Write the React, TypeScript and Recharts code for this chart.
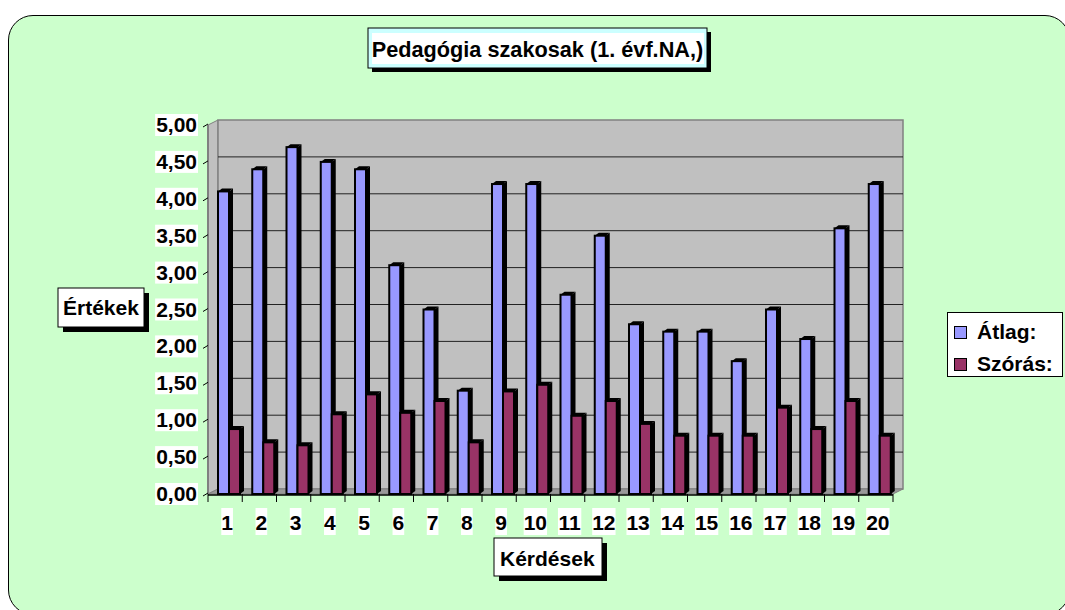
import { BarChart, Bar, XAxis, YAxis, Legend, usePlotArea } from "recharts";

const kerdesek = ["1", "2", "3", "4", "5", "6", "7", "8", "9", "10", "11", "12", "13", "14", "15", "16", "17", "18", "19", "20"];
const atlag = [4.1, 4.4, 4.7, 4.5, 4.4, 3.1, 2.5, 1.4, 4.2, 4.2, 2.7, 3.5, 2.3, 2.2, 2.2, 1.8, 2.5, 2.1, 3.6, 4.2];
const szoras = [0.88, 0.7, 0.66, 1.08, 1.35, 1.1, 1.26, 0.7, 1.39, 1.48, 1.06, 1.26, 0.95, 0.79, 0.79, 0.79, 1.17, 0.88, 1.26, 0.79];
const yTicks = [0, 0.5, 1, 1.5, 2, 2.5, 3, 3.5, 4, 4.5, 5];
const seriesNames = ["Átlag:", "Szórás:"];

const FONT = "'Liberation Sans', Arial, sans-serif";
const FS = 21;
const BLUE = "#9999FF";
const PLUM = "#993366";

const chartData = kerdesek.map((k, i) => ({ k, atlag: atlag[i], szoras: szoras[i] }));

const fmt = (v: number) => v.toFixed(2).replace(".", ",");
const textW = (s: string) =>
  s.split("").reduce((a, c) => a + (c === "," || c === "." ? 0.278 : 0.556), 0) * FS;

// 3D depth of the walls
const DX = 10;
const DY = -5;

function Bar3D(props: any) {
  const { x, y, width, height, fill } = props;
  if (!height || height <= 0) return null;
  const bx = x + 4;
  const d = 4;
  const e = 3;
  return (
    <g>
      <polygon
        points={`${bx + width},${y} ${bx + width + d},${y - e} ${bx + width + d},${y + height - e} ${bx + width},${y + height}`}
        fill="#000"
      />
      <polygon points={`${bx},${y} ${bx + d},${y - e} ${bx + width + d},${y - e} ${bx + width},${y}`} fill="#000" />
      <rect x={bx} y={y} width={width} height={height} fill={fill} stroke="#000" strokeWidth={2} />
    </g>
  );
}

function YTick(props: any) {
  const { x, y, payload } = props;
  const s = fmt(payload.value);
  const w = textW(s);
  const right = x - 9;
  return (
    <g>
      <rect x={right - w - 1} y={y - 11} width={w + 2} height={22} fill="#fff" />
      <text x={right} y={y + 7} textAnchor="end" fontFamily={FONT} fontWeight={700} fontSize={FS} fill="#000">
        {s}
      </text>
    </g>
  );
}

function XTick(props: any) {
  const { x, y, payload } = props;
  const s = String(payload.value);
  const w = textW(s);
  const cx = x + 2;
  return (
    <g>
      <rect x={cx - w / 2} y={y + 12} width={w} height={27} fill="#fff" />
      <text x={cx} y={y + 34} textAnchor="middle" fontFamily={FONT} fontWeight={700} fontSize={FS} fill="#000">
        {s}
      </text>
    </g>
  );
}

function LabelBox({ x, y, w, h, text, tx, ty, fill }: any) {
  return (
    <g>
      <rect x={x + 5} y={y + 5} width={w} height={h} fill="#000" />
      <rect x={x} y={y} width={w} height={h} fill={fill} stroke="#000" strokeWidth={1} />
      <text x={tx} y={ty} fontFamily={FONT} fontWeight={700} fontSize={FS} fill="#000">
        {text}
      </text>
    </g>
  );
}

function Walls() {
  const area = usePlotArea();
  if (!area) return null;
  const { x, y, width: w, height: h } = area;
  const yOf = (v: number) => y + h * (1 - v / 5);
  const step = w / kerdesek.length;
  return (
    <g>
      {/* left side wall */}
      <polygon
        points={`${x},${y} ${x + DX},${y + DY} ${x + DX},${y + h + DY} ${x},${y + h}`}
        fill="#C0C0C0"
        stroke="#808080"
      />
      {/* back wall */}
      <rect x={x + DX} y={y + DY} width={w} height={h} fill="#C0C0C0" stroke="#808080" strokeWidth={1.5} />
      {yTicks
        .filter((v) => v > 0 && v < 5)
        .map((v) => (
          <line key={v} x1={x + DX} x2={x + DX + w} y1={yOf(v) + DY} y2={yOf(v) + DY} stroke="#222" strokeWidth={1} />
        ))}
      {/* floor */}
      <polygon
        points={`${x},${y + h} ${x + DX},${y + h + DY} ${x + w + DX},${y + h + DY} ${x + w},${y + h}`}
        fill="#999999"
        stroke="#808080"
      />
      {/* front axes */}
      <line x1={x} x2={x} y1={y} y2={y + h} stroke="#808080" strokeWidth={2} />
      {yTicks.map((v) => (
        <line key={"t" + v} x1={x - 5} y1={yOf(v) + 2} x2={x} y2={yOf(v) - 1} stroke="#000" strokeWidth={1} />
      ))}
      <line x1={x} x2={x + w} y1={y + h + 1} y2={y + h + 1} stroke="#000" strokeWidth={1.5} />
      {kerdesek.map((k, i) => (
        <line key={"x" + k} x1={x + i * step} x2={x + i * step} y1={y + h} y2={y + h + 8} stroke="#000" strokeWidth={1} />
      ))}
      <line x1={x + w} x2={x + w} y1={y + h} y2={y + h + 8} stroke="#000" strokeWidth={1} />
    </g>
  );
}

function Texts() {
  return (
    <g>
      <rect x={372} y={32} width={339} height={40} fill="#000" />
      <rect x={368} y={28} width={339} height={40} fill="#CCFFFF" stroke="#000" strokeWidth={1} />
      <rect x={372} y={33} width={332} height={31} fill="#fff" />
      <text x={537.5} y={57} textAnchor="middle" fontFamily={FONT} fontWeight={700} fontSize={21.7} fill="#000">
        Pedagógia szakosak (1. évf.NA,)
      </text>
      <LabelBox x={58} y={288} w={86} h={39} text="Értékek" tx={63} ty={315} fill="#fff" />
      <LabelBox x={494} y={538} w={108} h={38} text="Kérdések" tx={500} ty={566} fill="#fff" />
    </g>
  );
}

function LegendBox(props: any) {
  const items = [...(props.payload || [])].sort(
    (a: any, b: any) => seriesNames.indexOf(a.value) - seriesNames.indexOf(b.value)
  );
  return (
    <div
      style={{
        width: 116,
        height: 65,
        boxSizing: "border-box",
        border: "1px solid #000",
        background: "#fff",
        padding: "3px 0 0 6px",
        fontFamily: FONT,
        fontWeight: 700,
        fontSize: FS,
        color: "#000",
      }}
    >
      {items.map((it: any) => (
        <div key={it.value} style={{ display: "flex", alignItems: "center", height: 32 }}>
          <span
            style={{
              display: "inline-block",
              width: 11,
              height: 11,
              background: it.color,
              border: "1.5px solid #000",
              marginRight: 10,
            }}
          />
          <span>{it.value}</span>
        </div>
      ))}
    </div>
  );
}

export default function App() {
  return (
    <div style={{ position: "absolute", left: 0, top: 0, width: 1065, height: 610, overflow: "hidden", background: "#fff" }}>
      <div
        style={{
          position: "absolute",
          left: 8,
          top: 15,
          width: 1062,
          height: 600,
          boxSizing: "border-box",
          border: "1.5px solid #000",
          borderRadius: 25,
          background: "#CCFFCC",
        }}
      />
      <div style={{ position: "absolute", left: 0, top: 0 }}>
        <BarChart
          width={1065}
          height={610}
          data={chartData}
          margin={{ top: 125, right: 56, bottom: 76, left: 148 }}
          barGap={0}
          barCategoryGap={0}
        >
          <Walls />
          <Texts />
          <XAxis dataKey="k" height={40} axisLine={false} tickLine={false} tickSize={0} tick={<XTick />} interval={0} />
          <YAxis
            width={60}
            domain={[0, 5]}
            ticks={yTicks}
            axisLine={false}
            tickLine={false}
            tickSize={0}
            tick={<YTick />}
            interval={0}
          />
          <Legend
            layout="horizontal"
            verticalAlign="middle"
            align="right"
            wrapperStyle={{ left: 947, top: 312, right: "auto", width: 116, height: 65 }}
            content={<LegendBox />}
          />
          <Bar dataKey="atlag" name="Átlag:" fill={BLUE} barSize={11} shape={<Bar3D />} isAnimationActive={false} />
          <Bar dataKey="szoras" name="Szórás:" fill={PLUM} barSize={11} shape={<Bar3D />} isAnimationActive={false} />
        </BarChart>
      </div>
    </div>
  );
}
